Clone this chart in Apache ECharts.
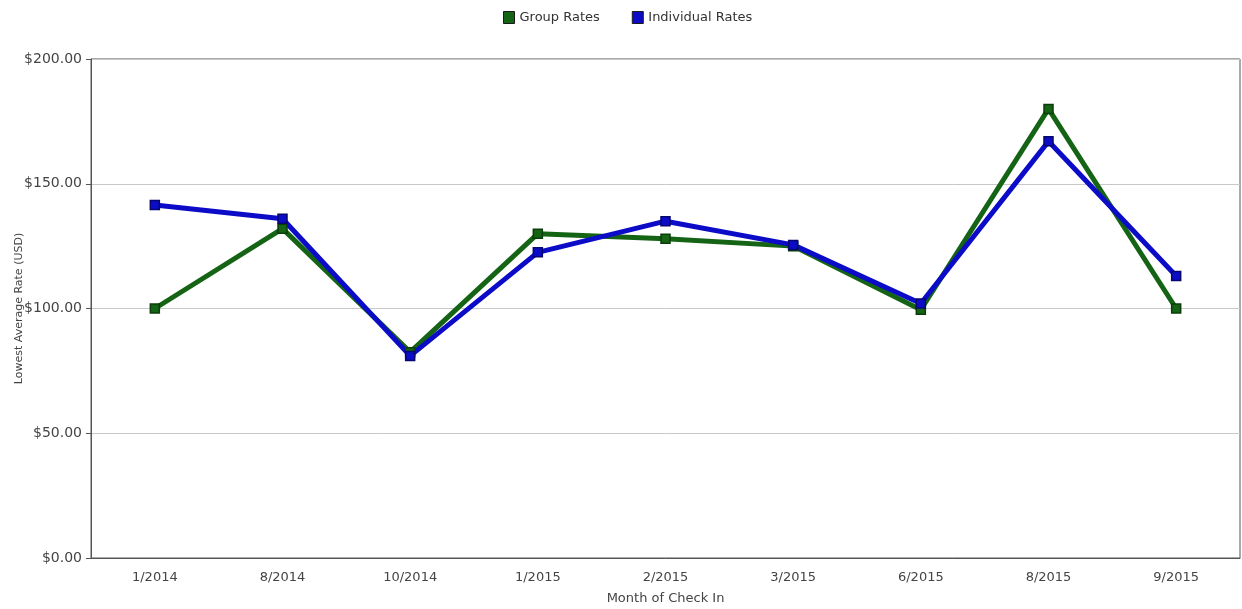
<!DOCTYPE html>
<html>
<head>
<meta charset="utf-8">
<style>
  html, body { margin: 0; padding: 0; background: #ffffff; }
  #chart { width: 1242px; height: 609px; }
</style>
<script src="https://cdn.jsdelivr.net/npm/echarts@6/dist/echarts.min.js"></script>
</head>
<body>
<div id="chart"></div>
<script>
// Months of check-in
const months = ['1/2014', '8/2014', '10/2014', '1/2015', '2/2015', '3/2015', '6/2015', '8/2015', '9/2015'];
// Lowest average nightly rate, USD
const groupRates = [100.0, 132.0, 82.5, 130.0, 128.0, 125.0, 99.5, 180.0, 100.0];
const individualRates = [141.5, 136.0, 81.0, 122.5, 135.0, 125.5, 102.0, 167.0, 113.0];
// Value axis ticks
const yMin = 0, yMax = 200, yStep = 50;

const FONT = 'DejaVu Sans';
const GREEN = '#156415';
const BLUE = '#0c0cc8';

const chart = echarts.init(document.getElementById('chart'), null, { renderer: 'canvas' });

function lineSeries(name, data, color, edge) {
  return {
    name: name,
    type: 'line',
    data: data,
    symbol: 'rect',
    symbolSize: 9,
    showSymbol: true,
    lineStyle: { color: color, width: 5 },
    itemStyle: { color: color, borderColor: edge, borderWidth: 1.5 },
    emphasis: { disabled: true },
    animation: false
  };
}

chart.setOption({
  backgroundColor: '#ffffff',
  textStyle: { fontFamily: FONT },
  legend: {
    top: 6,
    left: 498,
    itemWidth: 11,
    itemHeight: 12,
    itemGap: 32,
    icon: 'rect',
    textStyle: { fontFamily: FONT, fontSize: 13, color: '#333333' },
    itemStyle: { borderColor: '#1a1a1a', borderWidth: 1 },
    data: ['Group Rates', 'Individual Rates']
  },
  grid: {
    left: 91,
    right: 2,
    top: 59,
    bottom: 51,
    show: true,
    borderColor: '#555555',
    borderWidth: 1,
    containLabel: false,
    outerBoundsMode: 'none'
  },
  xAxis: {
    type: 'category',
    data: months,
    boundaryGap: true,
    name: 'Month of Check In',
    nameLocation: 'middle',
    nameGap: 34,
    nameMoveOverlap: false,
    nameTextStyle: { fontFamily: FONT, fontSize: 13, color: '#444444' },
    axisLine: { lineStyle: { color: '#555555', width: 1 } },
    axisTick: { alignWithLabel: true, length: 5, lineStyle: { color: '#555555' } },
    axisLabel: { fontFamily: FONT, fontSize: 13, color: '#444444', margin: 13 },
    splitLine: { show: false }
  },
  yAxis: {
    type: 'value',
    min: yMin,
    max: yMax,
    interval: yStep,
    name: 'Lowest Average Rate (USD)',
    nameLocation: 'middle',
    nameRotate: 90,
    nameGap: 66,
    nameMoveOverlap: false,
    nameTextStyle: { fontFamily: FONT, fontSize: 11, color: '#444444' },
    axisLine: { show: true, lineStyle: { color: '#555555', width: 1 } },
    axisTick: { show: true, length: 5, lineStyle: { color: '#555555' } },
    axisLabel: {
      fontFamily: FONT,
      fontSize: 14,
      color: '#444444',
      margin: 9,
      formatter: v => '$' + v.toFixed(2)
    },
    splitLine: { show: true, lineStyle: { color: '#c8c8c8', width: 1 } }
  },
  series: [
    lineSeries('Group Rates', groupRates, GREEN, '#0b3d0b'),
    lineSeries('Individual Rates', individualRates, BLUE, '#06066e')
  ]
});
</script>
</body>
</html>
